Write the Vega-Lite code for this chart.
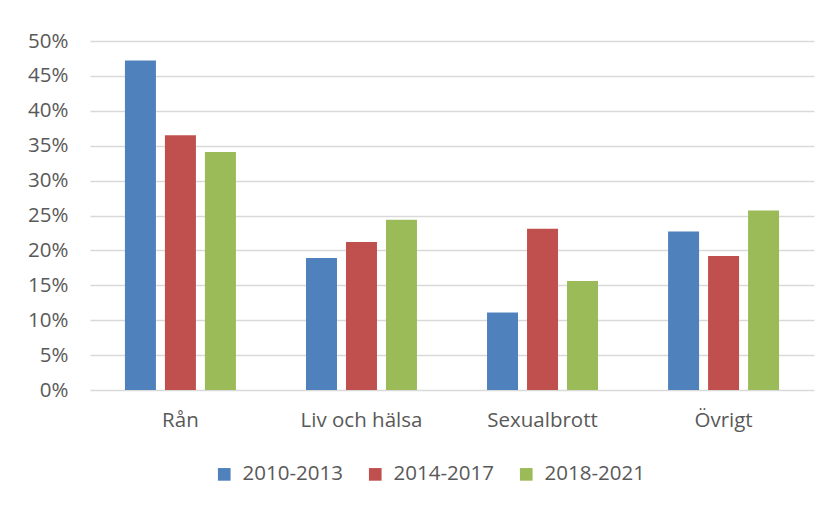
{
  "$schema": "https://vega.github.io/schema/vega-lite/v6.json",
  "autosize": {"type": "none"},
  "padding": {"left": 90, "top": 41, "right": 20, "bottom": 116},
  "width": 724,
  "height": 349,
  "background": "white",
  "data": {
    "values": [
      {"kategori": "Rån", "period": "2010-2013", "andel": 0.472},
      {"kategori": "Rån", "period": "2014-2017", "andel": 0.365},
      {"kategori": "Rån", "period": "2018-2021", "andel": 0.341},
      {"kategori": "Liv och hälsa", "period": "2010-2013", "andel": 0.189},
      {"kategori": "Liv och hälsa", "period": "2014-2017", "andel": 0.212},
      {"kategori": "Liv och hälsa", "period": "2018-2021", "andel": 0.244},
      {"kategori": "Sexualbrott", "period": "2010-2013", "andel": 0.111},
      {"kategori": "Sexualbrott", "period": "2014-2017", "andel": 0.231},
      {"kategori": "Sexualbrott", "period": "2018-2021", "andel": 0.156},
      {"kategori": "Övrigt", "period": "2010-2013", "andel": 0.227},
      {"kategori": "Övrigt", "period": "2014-2017", "andel": 0.192},
      {"kategori": "Övrigt", "period": "2018-2021", "andel": 0.257}
    ]
  },
  "mark": {"type": "bar"},
  "encoding": {
    "x": {
      "field": "kategori",
      "type": "nominal",
      "sort": ["Rån", "Liv och hälsa", "Sexualbrott", "Övrigt"],
      "scale": {"paddingInner": 0.387, "paddingOuter": 0.193},
      "axis": {
        "title": null,
        "labelAngle": 0,
        "domain": false,
        "ticks": false,
        "labelPadding": 20,
        "labelFont": "Open Sans",
        "labelFontSize": 20.5,
        "labelColor": "#595959"
      }
    },
    "xOffset": {
      "field": "period",
      "type": "nominal",
      "scale": {"paddingInner": 0.225, "paddingOuter": 0}
    },
    "y": {
      "field": "andel",
      "type": "quantitative",
      "scale": {"domain": [0, 0.5], "nice": false},
      "axis": {
        "title": null,
        "format": ".0%",
        "values": [0, 0.05, 0.1, 0.15, 0.2, 0.25, 0.3, 0.35, 0.4, 0.45, 0.5],
        "domain": false,
        "ticks": false,
        "labelPadding": 22,
        "labelFont": "Open Sans",
        "labelFontSize": 20.5,
        "labelColor": "#595959",
        "gridColor": "#D9D9D9",
        "gridWidth": 1.5
      }
    },
    "color": {
      "field": "period",
      "type": "nominal",
      "scale": {
        "domain": ["2010-2013", "2014-2017", "2018-2021"],
        "range": ["#4F81BD", "#C0504D", "#9BBB59"]
      },
      "legend": {
        "title": null,
        "orient": "none",
        "direction": "horizontal",
        "legendX": 124,
        "legendY": 423,
        "padding": 0,
        "symbolType": "square",
        "symbolSize": 160,
        "symbolStrokeWidth": 0,
        "labelFont": "Open Sans",
        "labelFontSize": 20.5,
        "labelColor": "#595959",
        "labelOffset": 8,
        "columnPadding": 22
      }
    }
  },
  "config": {
    "view": {"stroke": null}
  }
}
